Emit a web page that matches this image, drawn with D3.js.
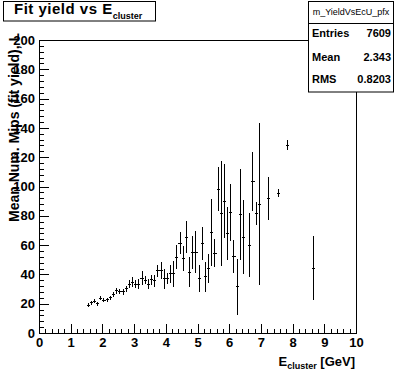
<!DOCTYPE html>
<html>
    <head>
        <title>Fit yield vs E cluster</title>
        <script src="https://d3js.org/d3.v7.min.js"></script>
        <style>
            body { margin: 0; background: #fff; }
            svg { display: block; }
            text { font-family: "Liberation Sans", Arial, sans-serif; font-weight: bold; fill: #000; }
            .axis text { font-size: 13px; }
            .axis line, .axis path { stroke: #000; shape-rendering: crispEdges; }
        </style>
    </head>
    <body>
        <svg width="396" height="372"></svg>
        <script>
            // bin centres (GeV), profile means and their errors
            var energy = [1.55, 1.65, 1.75, 1.85, 1.95, 2.05, 2.15, 2.25, 2.35, 2.45,
                          2.55, 2.65, 2.75, 2.85, 2.95, 3.05, 3.15, 3.25, 3.35, 3.45,
                          3.55, 3.65, 3.75, 3.85, 3.95, 4.05, 4.15, 4.25, 4.35, 4.45,
                          4.55, 4.65, 4.75, 4.85, 4.95, 5.05, 5.15, 5.25, 5.35, 5.45,
                          5.55, 5.65, 5.75, 5.85, 5.95, 6.05, 6.15, 6.25, 6.35, 6.45,
                          6.65, 6.75, 6.85, 6.95, 7.25, 7.55, 7.85, 8.65];
            var meanMips = [19.1, 20.5, 21.8, 19.8, 23.7, 22.5, 22.7, 24.1, 26.4, 28.7,
                            28.2, 28.0, 30.2, 33.4, 34.8, 33.4, 33.4, 37.5, 36.0, 33.4,
                            36.2, 35.5, 42.5, 42.5, 36.9, 37.3, 40.3, 40.3, 51.7, 61.4,
                            51.0, 65.3, 41.6, 55.1, 55.1, 37.3, 61.2, 38.4, 44.2, 68.7,
                            54.4, 98.1, 81.7, 90.1, 68.0, 82.4, 52.4, 31.4, 81.0, 65.3,
                            59.9, 103.5, 81.7, 88.0, 91.9, 95.4, 128.3, 44.2];
            var errMips = [0.8, 0.8, 0.9, 0.9, 1.0, 1.0, 1.0, 1.1, 1.3, 1.5,
                           1.5, 1.7, 1.8, 2.5, 2.8, 2.5, 2.8, 4.3, 2.5, 2.8,
                           3.1, 3.9, 3.6, 5.5, 6.4, 3.4, 6.0, 8.5, 8.0, 7.4,
                           8.0, 10.5, 9.8, 11.0, 14.0, 8.7, 11.1, 10.0, 9.7, 22.5,
                           9.3, 14.8, 35.5, 25.0, 17.6, 19.0, 10.9, 19.0, 30.7, 25.0,
                           21.6, 19.6, 7.4, 55.0, 14.5, 2.3, 3.0, 21.6];
            var binWidth = 0.1;

            var statLabels = ["Entries", "Mean", "RMS"];
            var statValues = ["7609", "2.343", "0.8203"];

            var svg = d3.select("svg");

            var x = d3.scaleLinear().domain([0, 10]).range([39, 356]);
            var y = d3.scaleLinear().domain([0, 200]).range([333, 40]);

            // frame
            svg.append("rect")
                .attr("x", x(0)).attr("y", y(200))
                .attr("width", x(10) - x(0)).attr("height", y(0) - y(200))
                .attr("fill", "none").attr("stroke", "#000")
                .attr("shape-rendering", "crispEdges");

            // x axis: major + minor ticks pointing inward
            svg.append("g").attr("class", "axis")
                .attr("transform", "translate(0," + y(0) + ")")
                .call(d3.axisBottom(x).tickValues(d3.range(0, 10.01, 0.2))
                    .tickSize(-4.5).tickSizeOuter(0).tickFormat(""));
            svg.append("g").attr("class", "axis")
                .attr("transform", "translate(0," + y(0) + ")")
                .call(d3.axisBottom(x).ticks(10).tickSize(-9).tickSizeOuter(0).tickPadding(5));

            // y axis
            svg.append("g").attr("class", "axis")
                .attr("transform", "translate(" + x(0) + ",0)")
                .call(d3.axisLeft(y).tickValues(d3.range(0, 200.1, 4))
                    .tickSize(-5).tickSizeOuter(0).tickFormat(""));
            svg.append("g").attr("class", "axis")
                .attr("transform", "translate(" + x(0) + ",0)")
                .call(d3.axisLeft(y).tickValues(d3.range(0, 201, 20)).tickSize(-9.5).tickSizeOuter(0).tickPadding(4));

            // profile points: bin-width bar + error bar
            var pts = energy.map(function(e, i) {
                return {e: e, v: meanMips[i], err: errMips[i]};
            });
            var marks = svg.append("g")
                .attr("stroke", "#000").attr("stroke-width", 1)
                .attr("shape-rendering", "crispEdges");
            marks.selectAll(".hbar").data(pts).enter().append("line")
                .attr("x1", d => x(d.e - binWidth / 2)).attr("x2", d => x(d.e + binWidth / 2))
                .attr("y1", d => y(d.v)).attr("y2", d => y(d.v));
            marks.selectAll(".vbar").data(pts).enter().append("line")
                .attr("x1", d => x(d.e)).attr("x2", d => x(d.e))
                .attr("y1", d => y(d.v - d.err) + 0.5).attr("y2", d => y(d.v + d.err) - 0.5);

            // axis titles
            var xt = svg.append("text").attr("x", 355).attr("y", 366)
                .attr("text-anchor", "end").style("font-size", "13px");
            xt.append("tspan").text("E");
            xt.append("tspan").attr("dy", 3).style("font-size", "9px").text("cluster");
            xt.append("tspan").attr("dy", -3).text(" [GeV]");

            svg.append("text")
                .attr("transform", "translate(19,33) rotate(-90)")
                .attr("text-anchor", "end").style("font-size", "14px")
                .text("Mean Num. Mips (fit yield), L");

            // title box
            svg.append("rect").attr("x", 3.5).attr("y", 1.5).attr("width", 152).attr("height", 19.5)
                .attr("fill", "#fff").attr("stroke", "#000");
            var tt = svg.append("text").attr("x", 14).attr("y", 13.5)
                .style("font-size", "15px").style("letter-spacing", "0.5px");
            tt.append("tspan").text("Fit yield vs E");
            tt.append("tspan").attr("dy", 5).style("font-size", "9px").style("letter-spacing", "0px").text("cluster");

            // stats box
            var sb = svg.append("g");
            sb.append("rect").attr("x", 308.5).attr("y", 1.5).attr("width", 85).attr("height", 90.5)
                .attr("fill", "#fff").attr("stroke", "#000");
            sb.append("line").attr("x1", 308.5).attr("x2", 393.5).attr("y1", 23.5).attr("y2", 23.5)
                .attr("stroke", "#000");
            sb.append("text").attr("x", 351).attr("y", 15).attr("text-anchor", "middle")
                .style("font-size", "9px").style("font-weight", "normal").text("m_YieldVsEcU_pfx");
            var rowY = [37, 61, 83];
            sb.selectAll(".slab").data(statLabels).enter().append("text")
                .attr("x", 312).attr("y", (d, i) => rowY[i]).style("font-size", "11px").text(d => d);
            sb.selectAll(".sval").data(statValues).enter().append("text")
                .attr("x", 391).attr("y", (d, i) => rowY[i]).attr("text-anchor", "end")
                .style("font-size", "11px").text(d => d);
        </script>
    </body>
</html>
